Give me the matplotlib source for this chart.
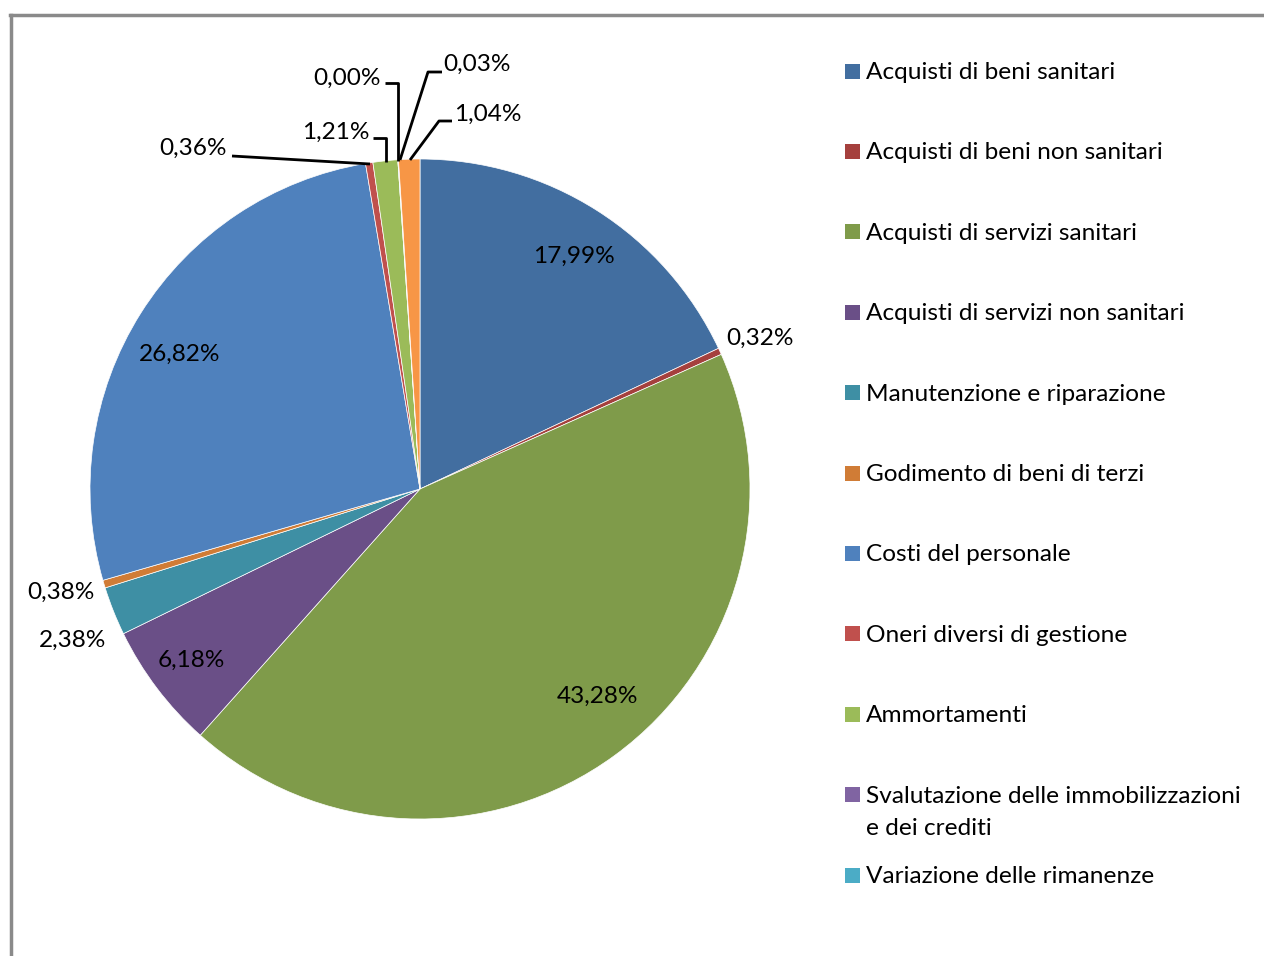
import matplotlib
matplotlib.use("Agg")
import matplotlib.pyplot as plt
from matplotlib.patches import Rectangle

# ---- data ----
categories = [
    "Acquisti di beni sanitari",
    "Acquisti di beni non sanitari",
    "Acquisti di servizi sanitari",
    "Acquisti di servizi non sanitari",
    "Manutenzione e riparazione",
    "Godimento di beni di terzi",
    "Costi del personale",
    "Oneri diversi di gestione",
    "Ammortamenti",
    "Svalutazione delle immobilizzazioni\ne dei crediti",
    "Variazione delle rimanenze",
    "Altro",
]
values = [17.99, 0.32, 43.28, 6.18, 2.38, 0.38, 26.82, 0.36, 1.21, 0.00, 0.03, 1.04]
legend_count = 11  # legend in the reference is cut after 11 entries

colors = ["#426EA0", "#A5403D", "#7F9B4A", "#6A4F87", "#3E8FA4", "#D07C36",
          "#4F81BD", "#C0504D", "#9BBB59", "#8064A2", "#4BACC6", "#F79646"]

W, H = 1264, 956
FONT = "Lato"
FS = 17.6

fig = plt.figure(figsize=(W / 100, H / 100), dpi=100)
ax = fig.add_axes([0, 0, 1, 1])

def Y(y):
    return H - y

cx, cy, R = 420, 489, 330
wedges, _ = ax.pie(values, colors=colors, startangle=90, counterclock=False,
                   center=(cx, Y(cy)), radius=R, frame=True,
                   wedgeprops=dict(edgecolor="white", linewidth=0.5))
ax.set_xlim(0, W)
ax.set_ylim(0, H)
ax.set_aspect("equal")
ax.axis("off")

def fmt(v):
    return f"{v:.2f}".replace(".", ",") + "%"

# label positions (text centres, reference pixel coords)
label_pos = [(574, 256), (760, 338), (598, 696), (191, 660), (73, 640), (61, 592),
             (180, 354), (193, 148), (336, 132), (347, 78), (477, 64), (488, 114)]
for v, (x, y) in zip(values, label_pos):
    ax.text(x, Y(y), fmt(v), ha="center", va="center", fontsize=FS,
            family=FONT, color="black")

# leader lines
leaders = [
    [(232, 156), (370, 164)],
    [(373, 138), (386, 138), (386, 162)],
    [(385, 83), (398, 83), (398, 161)],
    [(442, 72), (428, 72), (400, 160)],
    [(452, 121), (439, 121), (410, 160)],
]
for pts in leaders:
    xs = [p[0] for p in pts]
    ys = [Y(p[1]) for p in pts]
    ax.plot(xs, ys, color="black", lw=2.0, solid_capstyle="butt")

# legend (manual)
leg_y0, leg_dy = 71, 80.4
for i in range(legend_count):
    y = leg_y0 + i * leg_dy
    ax.add_patch(Rectangle((845, Y(y) - 7.5), 15, 15, facecolor=colors[i],
                           edgecolor="none"))
    for k, line in enumerate(categories[i].split("\n")):
        ax.text(866, Y(y + 8 + 32 * k), line, ha="left", va="baseline",
                fontsize=FS, family=FONT, color="black")

# frame
ax.plot([10, W + 5], [Y(15), Y(15)], color="#8a8a8a", lw=2.5)
ax.plot([11, 11], [Y(15), -5], color="#8a8a8a", lw=2.5)

fig.savefig("out.png", dpi=100)
